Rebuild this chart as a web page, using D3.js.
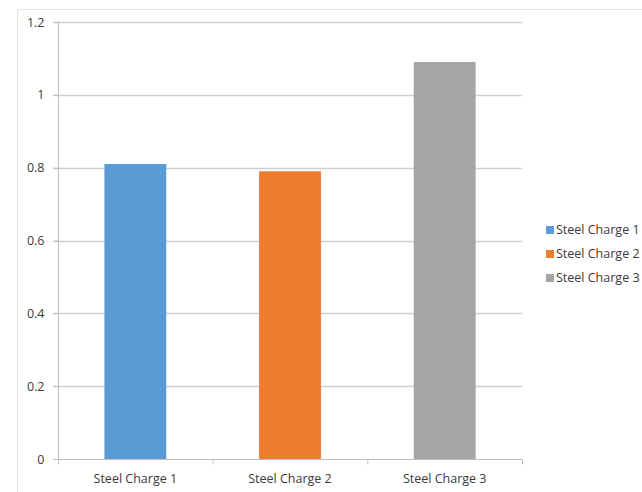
<!DOCTYPE html>
<html>
<head>
<meta charset="utf-8">
<script src="https://cdn.jsdelivr.net/npm/d3@7"></script>
<style>
  html, body { margin: 0; padding: 0; background: #fff; }
  svg { display: block; font-family: "Open Sans", "Noto Sans", sans-serif; }
</style>
</head>
<body>
<svg id="chart" width="642" height="492"></svg>
<script>
// Series data
const categories = ["Steel Charge 1", "Steel Charge 2", "Steel Charge 3"];
const values = [0.81, 0.79, 1.09];
const colors = ["#5b9bd5", "#ed7d31", "#a5a5a5"];
const yTicks = [0, 0.2, 0.4, 0.6, 0.8, 1, 1.2];
const yTickLabels = ["0", "0.2", "0.4", "0.6", "0.8", "1", "1.2"];

const svg = d3.select("#chart");
const fontSize = 12.5;
const textColor = "#3a3a3a";

// Chart frame
svg.append("rect")
  .attr("x", 17.5).attr("y", 9.5)
  .attr("width", 700).attr("height", 600)
  .attr("fill", "none").attr("stroke", "#e4e4e4");

const plot = { left: 58, right: 522, top: 22, bottom: 459 };

const x = d3.scaleBand()
  .domain(categories)
  .range([plot.left, plot.right])
  .paddingInner(0.6)
  .paddingOuter(0.3);

const y = d3.scaleLinear().domain([0, 1.2]).range([plot.bottom, plot.top]);

// Horizontal gridlines
svg.append("g")
  .selectAll("line")
  .data(yTicks.filter(d => d > 0))
  .join("line")
  .attr("x1", plot.left - 5).attr("x2", plot.right)
  .attr("y1", d => Math.round(y(d)) + 0.5).attr("y2", d => Math.round(y(d)) + 0.5)
  .attr("stroke", "#d0d0d0").attr("stroke-width", 1.3);

// Bars
svg.append("g")
  .selectAll("rect")
  .data(categories)
  .join("rect")
  .attr("x", d => x(d))
  .attr("width", x.bandwidth())
  .attr("y", (d, i) => y(values[i]))
  .attr("height", (d, i) => y(0) - y(values[i]))
  .attr("fill", (d, i) => colors[i]);

// Y axis
const yAxis = svg.append("g")
  .attr("transform", `translate(${plot.left + 0.5},0)`)
  .call(d3.axisLeft(y).tickValues(yTicks)
    .tickFormat((d, i) => yTickLabels[i]).tickSize(5).tickPadding(9));
yAxis.select(".domain").attr("stroke", "#bfbfbf").attr("d", `M0,${plot.top}V${plot.bottom}`);
yAxis.selectAll(".tick line").attr("stroke", "#bfbfbf");
yAxis.selectAll(".tick text").attr("font-size", fontSize).attr("fill", textColor)
  .attr("font-family", "'Open Sans', sans-serif");

// X axis with boundary ticks between categories
const xAxisG = svg.append("g").attr("transform", `translate(0,${plot.bottom + 0.5})`);
xAxisG.append("line")
  .attr("x1", plot.left - 5).attr("x2", plot.right)
  .attr("stroke", "#bfbfbf");
const bounds = d3.range(categories.length + 1).map(i => plot.left + i * (plot.right - plot.left) / categories.length);
xAxisG.selectAll("line.tick")
  .data(bounds)
  .join("line")
  .attr("class", "tick")
  .attr("x1", d => d + 0.5).attr("x2", d => d + 0.5)
  .attr("y1", 0).attr("y2", 5)
  .attr("stroke", "#bfbfbf");
xAxisG.selectAll("text")
  .data(categories)
  .join("text")
  .attr("x", d => x(d) + x.bandwidth() / 2)
  .attr("y", 23)
  .attr("text-anchor", "middle")
  .attr("font-size", fontSize)
  .attr("fill", textColor)
  .text(d => d);

// Legend
const legend = svg.append("g").attr("transform", "translate(546,230)");
const rows = legend.selectAll("g")
  .data(categories)
  .join("g")
  .attr("transform", (d, i) => `translate(0,${i * 24})`);
rows.append("rect")
  .attr("x", 0).attr("y", -4)
  .attr("width", 8).attr("height", 8)
  .attr("fill", (d, i) => colors[i]);
rows.append("text")
  .attr("x", 10).attr("y", 0)
  .attr("dy", "0.35em")
  .attr("font-size", fontSize)
  .attr("fill", textColor)
  .text(d => d);
</script>
</body>
</html>
